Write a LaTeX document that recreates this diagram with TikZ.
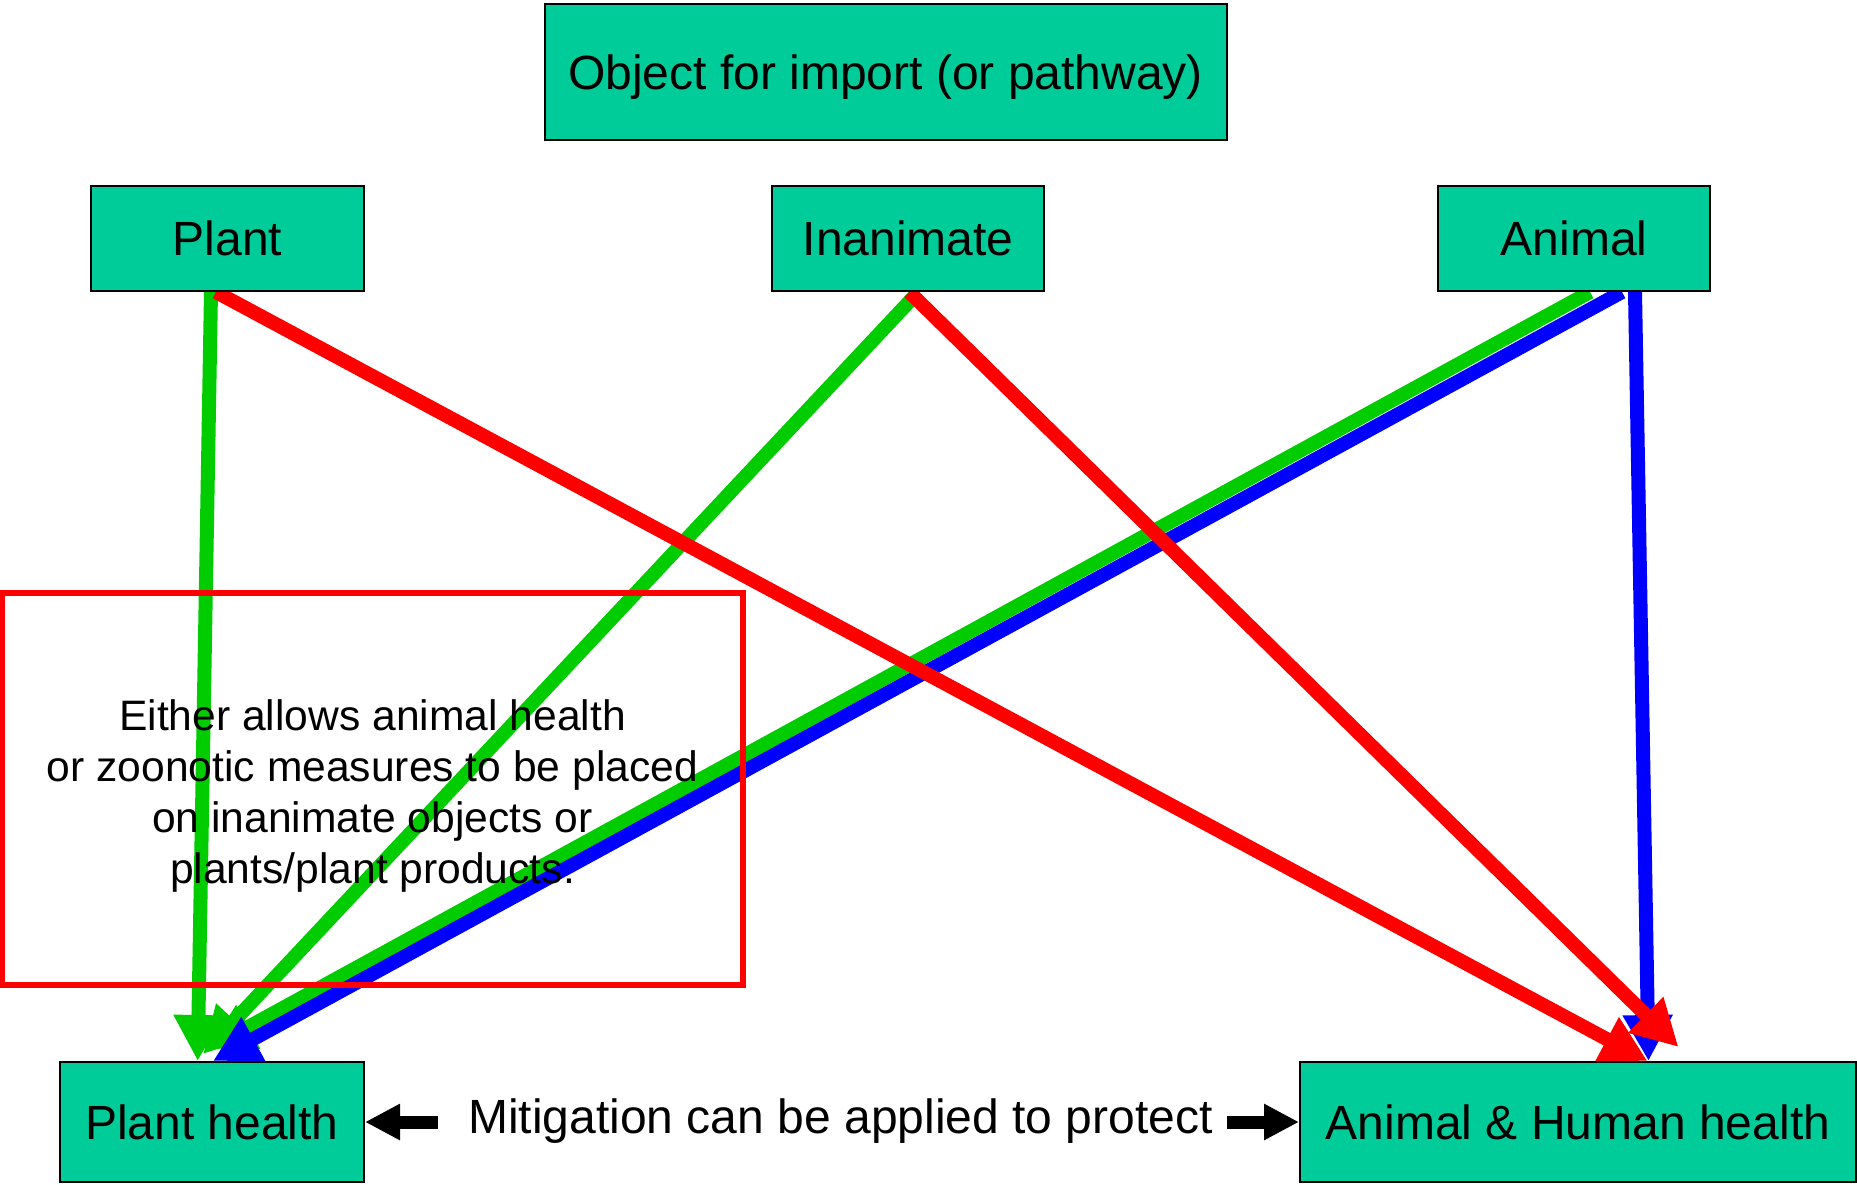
\documentclass[tikz,border=0pt]{standalone}
\usepackage{fontspec}
\setmainfont{Liberation Sans}
\usetikzlibrary{arrows.meta,backgrounds}
\definecolor{boxteal}{RGB}{0,204,153}
\definecolor{arrgreen}{RGB}{0,204,0}

\begin{document}
\begin{tikzpicture}[x=1pt,y=-1pt,
    box/.style={draw=black, line width=2pt, fill=boxteal, inner sep=0pt,
        text height=34pt, text depth=0pt,
        font=\fontsize{48}{57}\selectfont},
    note/.style={draw=red, line width=6pt, inner sep=0pt,
        minimum width=741pt, minimum height=392pt},
    notetext/.style={inner sep=0pt, align=center,
        font=\fontsize{42.6}{51.3}\selectfont},
    route/.style={line width=14pt, -{Triangle[length=46pt,width=47pt]}},
    mit/.style={line width=13pt, -{Triangle[length=35pt,width=34pt]}}]
        \useasboundingbox (0,0) rectangle (1857,1184);

        \node[box, minimum width=682pt, minimum height=136pt] (obj) at (885.6,72) {Object for import (or pathway)};

        \node[box, minimum width=273pt, minimum height=105pt] (plant) at (227.5,238.5) {Plant};
        \node[box, minimum width=272pt, minimum height=105pt] (inan) at (908.3,238.5) {Inanimate};
        \node[box, minimum width=272pt, minimum height=105pt] (animal) at (1574,238.5) {Animal};

        \node[box, minimum width=304pt, minimum height=120pt] (ph) at (212,1122) {Plant health};
        \node[box, minimum width=556pt, minimum height=120pt] (ah) at (1578,1122) {Animal \& Human health};

        \node[font=\fontsize{48}{57}\selectfont, inner sep=0pt, anchor=base] (mitig) at (840.5,1133) {Mitigation can be applied to protect};
        \draw[mit] ([xshift=-30pt]mitig.west |- ph.east) -- (ph.east);
        \draw[mit] ([xshift=14pt]mitig.east |- ah.west) -- (ah.west);

        \begin{scope}[on background layer]
            % green
            \draw[route, arrgreen] ([xshift=-16.5pt]plant.south) -- ([xshift=-14.3pt]ph.north);
            \draw[route, arrgreen] ([xshift=10pt]inan.south) -- ([xshift=-9pt,yshift=7pt]ph.north);
            \draw[route, arrgreen] ([xshift=16pt]animal.south) -- ([xshift=-4pt,yshift=12pt]ph.north);
            % blue
            \draw[route, blue] ([xshift=48pt]animal.south) -- ([xshift=1pt]ph.north);
            \draw[route, blue] ([xshift=61pt]animal.south) -- ([xshift=70.5pt]ah.north);
            % red
            \draw[route, red] ([xshift=-11.5pt]plant.south) -- ([xshift=69.5pt]ah.north);
            \draw[route, red] ([xshift=1pt]inan.south) -- ([xshift=100.5pt,yshift=14pt]ah.north);
        \end{scope}

        \node[note] (remark) at (372.5,789) {};
        \node[notetext] (remarktext) at ([yshift=-7pt]remark.center) {Either allows animal health\\or zoonotic measures to be placed\\on inanimate objects or\\plants/plant products.};
\end{tikzpicture}
\end{document}
